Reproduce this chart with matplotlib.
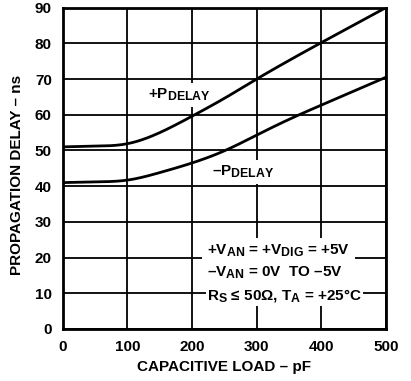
import matplotlib
matplotlib.use("Agg")
import matplotlib.pyplot as plt
import matplotlib._mathtext as _mt
import numpy as np

_mt.SHRINK_FACTOR = 0.8

plt.rcParams['font.family'] = ['Liberation Sans', 'DejaVu Sans']
plt.rcParams['font.weight'] = 'bold'
plt.rcParams['mathtext.fontset'] = 'custom'
plt.rcParams['mathtext.rm'] = 'Liberation Sans:bold'
plt.rcParams['mathtext.it'] = 'Liberation Sans:bold'
plt.rcParams['mathtext.bf'] = 'Liberation Sans:bold'

# data
load_pf = [0, 50, 100, 150, 200, 250, 300, 350, 400, 450, 500]
pos_delay = [51.0, 51.2, 51.9, 55.0, 59.6, 64.6, 70.0, 75.2, 80.2, 85.1, 90.0]
neg_delay = [41.0, 41.2, 41.7, 43.8, 46.5, 49.9, 54.3, 58.7, 62.7, 66.6, 70.5]
x_ticks = [0, 100, 200, 300, 400, 500]
y_ticks = [0, 10, 20, 30, 40, 50, 60, 70, 80, 90]

fig = plt.figure(figsize=(4.11, 3.81), dpi=100)
ax = fig.add_axes([0.153, 0.1365, 0.786, 0.8435])


def natural_spline(xs, ys, n=400):
    xs = np.asarray(xs, float); ys = np.asarray(ys, float)
    N = len(xs); h = np.diff(xs)
    A = np.zeros((N, N)); b = np.zeros(N)
    A[0, 0] = 1; A[-1, -1] = 1
    for i in range(1, N - 1):
        A[i, i-1] = h[i-1]; A[i, i] = 2 * (h[i-1] + h[i]); A[i, i+1] = h[i]
        b[i] = 6 * ((ys[i+1] - ys[i]) / h[i] - (ys[i] - ys[i-1]) / h[i-1])
    M = np.linalg.solve(A, b)
    xx = np.linspace(xs[0], xs[-1], n)
    yy = np.empty_like(xx)
    for k, x in enumerate(xx):
        i = min(np.searchsorted(xs, x, side='right') - 1, N - 2)
        a = xs[i+1] - x; c = x - xs[i]
        yy[k] = (M[i] * a**3 + M[i+1] * c**3) / (6 * h[i]) \
            + (ys[i] / h[i] - M[i] * h[i] / 6) * a \
            + (ys[i+1] / h[i] - M[i+1] * h[i] / 6) * c
    return xx, yy


for ys in (pos_delay, neg_delay):
    xx, yy = natural_spline(load_pf, ys)
    ax.plot(xx, yy, color='black', lw=2.0, zorder=3, solid_capstyle='butt')

ax.set_xlim(0, 500)
ax.set_ylim(0, 90)
ax.set_xticks(x_ticks)
ax.set_yticks(y_ticks)
ax.grid(True, color='black', lw=1.3)
ax.set_axisbelow(True)
ax.tick_params(length=0, labelsize=11, pad=8)
for lab in ax.get_xticklabels() + ax.get_yticklabels():
    lab.set_fontweight('bold')
for sp in ax.spines.values():
    sp.set_linewidth(2.0)

ax.set_xlabel('CAPACITIVE LOAD – pF', fontsize=11, fontweight='bold', labelpad=4)
ax.set_ylabel('PROPAGATION DELAY – ns', fontsize=11, fontweight='bold')
ax.yaxis.set_label_coords(-0.121, 0.479)

bb = dict(facecolor='white', edgecolor='none', pad=2.5)
ax.text(131, 65.5, r'+P$_{DELAY}$', fontsize=11, fontweight='bold', va='center', ha='left', zorder=2.5, bbox=bb)
ax.text(231, 44.0, r'–P$_{DELAY}$', fontsize=11, fontweight='bold', va='center', ha='left', zorder=2.5, bbox=bb)

bb2 = dict(facecolor='white', edgecolor='none', pad=3.5)
ax.text(223, 21.8, r'+V$_{AN}$ = +V$_{DIG}$ = +5V', fontsize=11, fontweight='bold', va='center', ha='left', zorder=4, bbox=bb2)
ax.text(223, 15.6, r'–V$_{AN}$ = 0V  TO –5V', fontsize=11, fontweight='bold', va='center', ha='left', zorder=4, bbox=bb2)
ax.text(223, 9.3, r'R$_{S}$ ≤ 50Ω, T$_{A}$ = +25°C', fontsize=11, fontweight='bold', va='center', ha='left', zorder=4,
        bbox=dict(facecolor='white', edgecolor='none', pad=1.0))

fig.savefig('out.png', dpi=100)
